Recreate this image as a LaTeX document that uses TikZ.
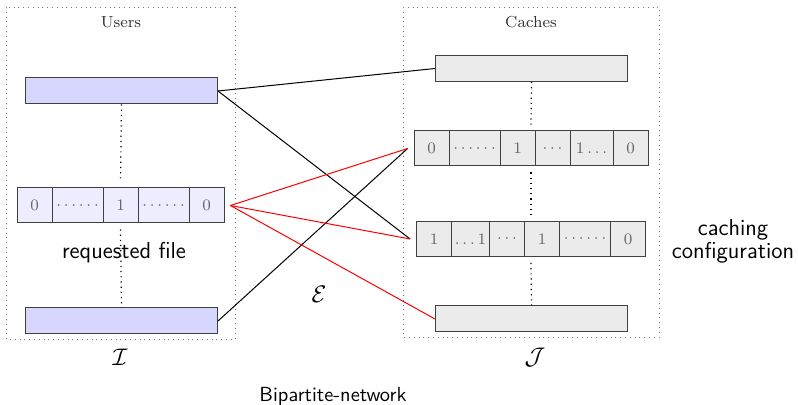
\documentclass[tikz,border=0pt]{standalone}
\usetikzlibrary{positioning,fit}
\begin{document}
\begin{tikzpicture}[x=0.5pt,y=-0.5pt,
  region/.style={draw=black!55,dotted,line width=0.4pt},
  ubar/.style={draw=black!75,fill=blue!16,line width=0.5pt,minimum width=96pt,minimum height=13pt,inner sep=0pt,anchor=north west},
  cbar/.style={draw=black!75,fill=black!8,line width=0.5pt,minimum width=96pt,minimum height=13pt,inner sep=0pt,anchor=north west},
  ucell/.style={draw=black!75,fill=blue!7,line width=0.5pt,minimum height=17.5pt,inner sep=0pt,outer sep=0pt,text=black!60,font=\footnotesize},
  ccell/.style={draw=black!75,fill=black!8,line width=0.5pt,minimum height=17.5pt,inner sep=0pt,outer sep=0pt,text=black!60,font=\footnotesize},
  rowfit/.style={inner sep=3pt},
  vdots/.style={dotted,line width=0.6pt},
  link/.style={line width=0.5pt},
  rlink/.style={line width=0.5pt,red},
  title/.style={font=\footnotesize,text=black!80},
  big/.style={font=\fontsize{11.5}{13.5}\selectfont\sffamily,align=center},
  mid/.style={font=\fontsize{10.2}{12}\selectfont\sffamily}
]
\useasboundingbox (0,0) rectangle (798,405);
% regions
\draw[region] (6,7) rectangle (235,339);
\draw[region] (403,7) rectangle (659,337);
\node[title] (tu) at (121,22) {Users};
\node[title] (tc) at (531,22) {Caches};
% user bars
\node[ubar] (ut) at (25,77.5) {};
\node[ubar] (ub) at (25,307.5) {};
% user row
\node[ucell,minimum width=17.5pt,anchor=west] (u1) at (17,205.5) {$0$};
\node[ucell,minimum width=25.5pt,right=0pt of u1] (u2) {$\cdots\cdots$};
\node[ucell,minimum width=17.5pt,right=0pt of u2] (u3) {$1$};
\node[ucell,minimum width=25.5pt,right=0pt of u3] (u4) {$\cdots\cdots$};
\node[ucell,minimum width=17.5pt,right=0pt of u4] (u5) {$0$};
\node[rowfit,fit=(u1)(u5)] (ur) {};
% cache bars
\node[cbar] (ct) at (435,55) {};
\node[cbar] (cb) at (435,305.5) {};
% cache row 1
\node[ccell,minimum width=17.5pt,anchor=west] (a1) at (414,148.5) {$0$};
\node[ccell,minimum width=25.5pt,right=0pt of a1] (a2) {$\cdots\cdots$};
\node[ccell,minimum width=17.5pt,right=0pt of a2] (a3) {$1$};
\node[ccell,minimum width=17.5pt,right=0pt of a3] (a4) {$\cdots$};
\node[ccell,minimum width=21.5pt,right=0pt of a4] (a5) {$1\ldots$};
\node[ccell,minimum width=17.5pt,right=0pt of a5] (a6) {$0$};
\node[rowfit,fit=(a1)(a6)] (ar) {};
% cache row 2
\node[ccell,minimum width=17.5pt,anchor=west] (b1) at (416.5,239) {$1$};
\node[ccell,minimum width=19pt,right=0pt of b1] (b2) {$\ldots1$};
\node[ccell,minimum width=17.5pt,right=0pt of b2] (b3) {$\cdots$};
\node[ccell,minimum width=17.5pt,right=0pt of b3] (b4) {$1$};
\node[ccell,minimum width=25.5pt,right=0pt of b4] (b5) {$\cdots\cdots$};
\node[ccell,minimum width=17.5pt,right=0pt of b5] (b6) {$0$};
\node[rowfit,fit=(b1)(b6)] (br) {};
% vertical dotted
\draw[vdots] (ut.south) -- (ur.north);
\draw[vdots] (ur.south) -- (ub.north);
\draw[vdots] (ct.south) -- (ar.north);
\draw[vdots] (ar.south) -- (br.north);
\draw[vdots] (br.south) -- (cb.north);
% labels
\node[big] (rq) at (124,253) {requested file};
\node[big] (cc) at (733,241) {caching\\[-2pt]configuration};
\node[big] (ee) at (319,294) {$\mathcal{E}$};
\node[big] (ii) at (120,357) {$\mathcal{I}$};
\node[big] (jj) at (535,357) {$\mathcal{J}$};
\node[mid] (bn) at (333,396) {Bipartite-network};
% links
\draw[link] (ut.east) -- (ct.west);
\draw[link] (ut.east) -- (br.west);
\draw[link] (ub.east) -- (ar.west);
\draw[rlink] (ur.east) -- (ar.west);
\draw[rlink] (ur.east) -- (br.west);
\draw[rlink] (ur.east) -- (cb.west);
\end{tikzpicture}
\end{document}
